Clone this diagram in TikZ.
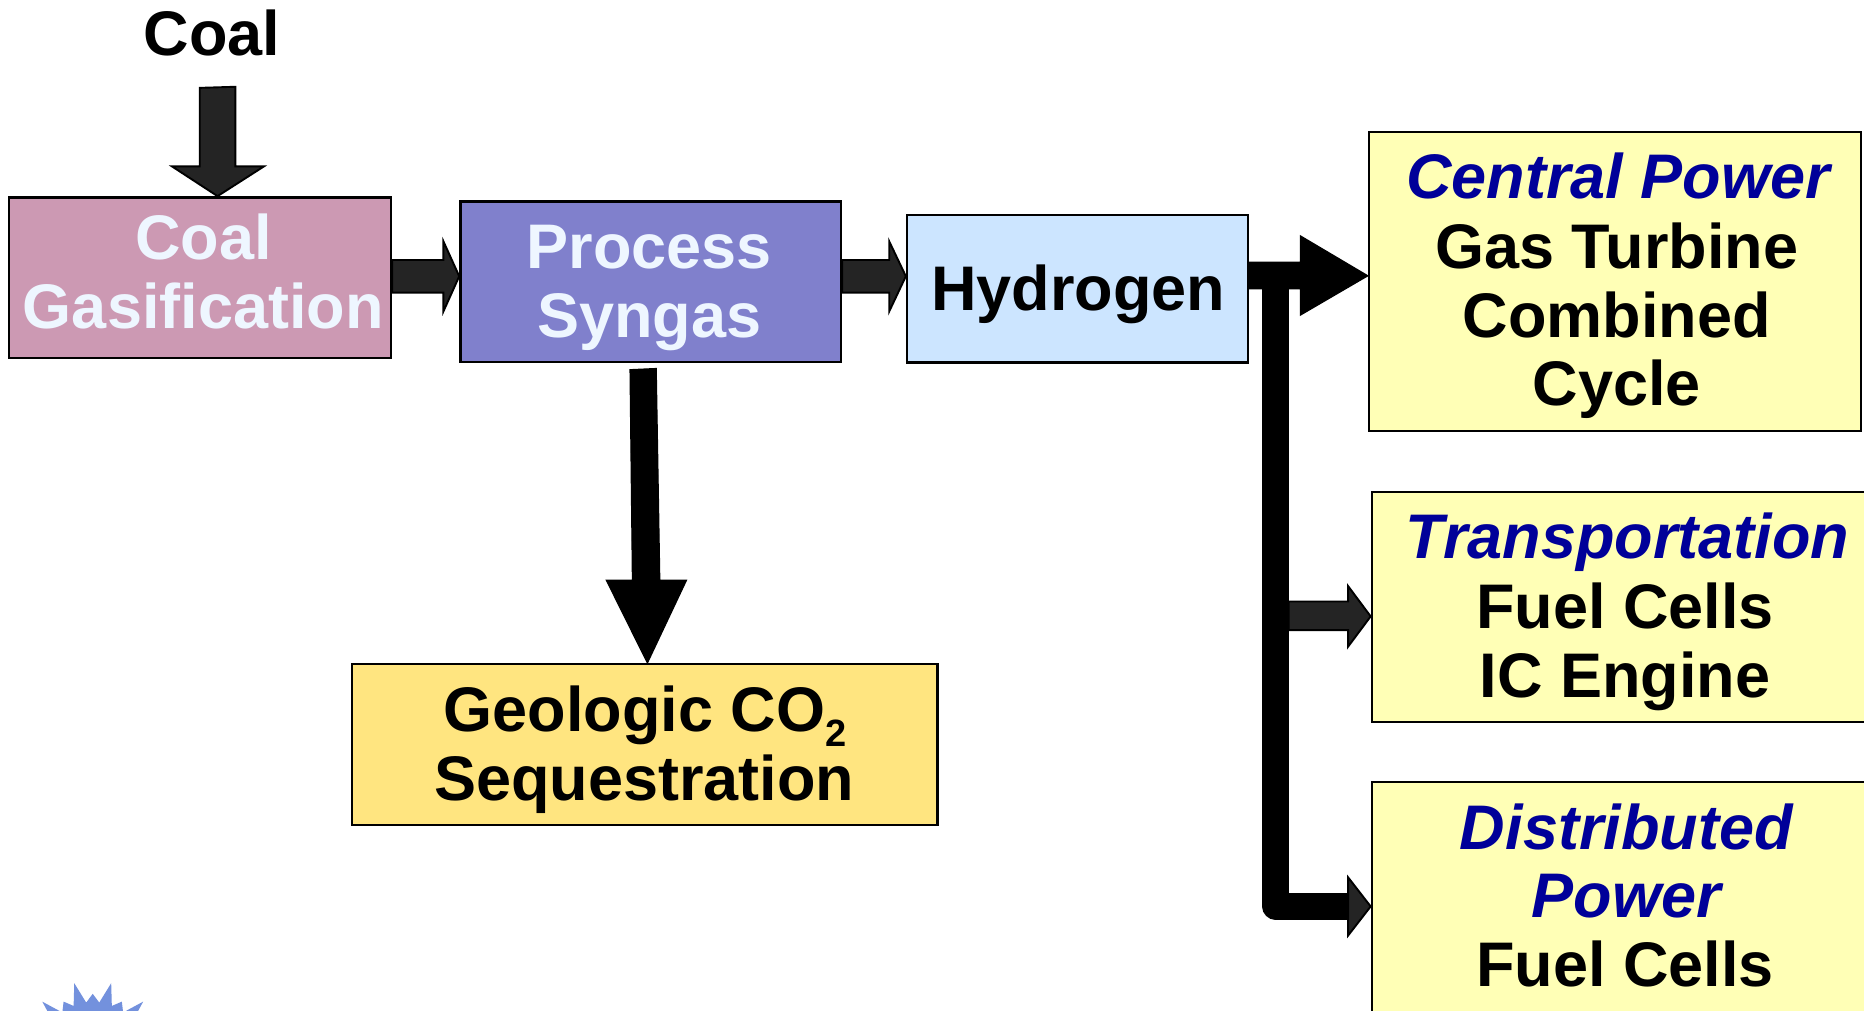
\documentclass[tikz,border=0pt]{standalone}
\usepackage{fontspec}
\setmainfont{Liberation Sans}
\usetikzlibrary{calc,fit}
\definecolor{cgfill}{RGB}{204,153,179}
\definecolor{psfill}{RGB}{128,128,204}
\definecolor{hfill}{RGB}{204,229,255}
\definecolor{yfill}{RGB}{255,255,182}
\definecolor{gfill}{RGB}{255,229,128}
\definecolor{navy}{RGB}{0,0,153}
\definecolor{wtext}{RGB}{238,246,255}
\definecolor{arrowgray}{RGB}{36,36,36}
\definecolor{starblue}{RGB}{115,145,221}
\tikzset{
 box/.style={draw=black, line width=1pt, inner sep=0pt},
 lbl/.style={font=\fontsize{26.5pt}{28.85pt}\selectfont\bfseries, inner sep=0pt, anchor=base},
 wlbl/.style={lbl, text=wtext},
 blbl/.style={lbl, text=navy, font=\fontsize{26.5pt}{28.85pt}\selectfont\bfseries\itshape},
 garrow/.style={fill=arrowgray, draw=black, line width=0.8pt, line join=miter},
 karrow/.style={fill=black, draw=black, line width=0.5pt},
 bar/.style={draw=black, line width=11pt, line join=round},
}
\begin{document}
\begin{tikzpicture}[x=0.5pt,y=-0.5pt]
\fill[white] (0,0) rectangle (1568,850);
\useasboundingbox (0,0) rectangle (1568,850);

% boxes
\node[box, fill=cgfill, fit={(7.6,166) (328.8,301.4)}] (cg) {};
\node[box, fill=psfill, fit={(387.3,169.4) (707.5,304.5)}] (ps) {};
\node[box, fill=hfill, fit={(763,181) (1050,305)}] (h) {};
\node[box, fill=yfill, fit={(1151.6,111) (1565.6,362.3)}] (cp) {};
\node[box, fill=yfill, fit={(1154,414) (1582,607.5)}] (tr) {};
\node[box, fill=yfill, fit={(1154,658) (1582,900)}] (dp) {};
\node[box, fill=gfill, fit={(295.9,558.7) (788.6,694)}] (gc) {};

% texts
\node[lbl] (coal) at (178.5,47) {Coal};
\node[wlbl] (cg1) at (171,218) {Coal};
\node[wlbl] (cg2) at (171,276.2) {Gasification};
\node[wlbl] (ps1) at (546,225.7) {Process};
\node[wlbl] (ps2) at (546,283.8) {Syngas};
\node[lbl] (h1) at (907,261) {Hydrogen};
\node[blbl] (cp1) at (1361,167.4) {Central Power};
\node[lbl] (cp2) at (1360,225.7) {Gas Turbine};
\node[lbl] (cp3) at (1360,283.8) {Combined};
\node[lbl] (cp4) at (1360,340.7) {Cycle};
\node[blbl] (tr1) at (1369,470) {Transportation};
\node[lbl] (tr2) at (1367,528.8) {Fuel Cells};
\node[lbl] (tr3) at (1367,586.5) {IC Engine};
\node[blbl] (dp1) at (1368,714.4) {Distributed};
\node[blbl] (dp2) at (1368,772) {Power};
\node[lbl] (dp3) at (1367,829.6) {Fuel Cells};
\node[lbl] (gc1) at (542.6,615.5) {Geologic CO\raisebox{-6.3pt}{\fontsize{16pt}{16pt}\selectfont 2}};
\node[lbl] (gc2) at (541.8,673) {Sequestration};

% arrows
\filldraw[garrow] (coal.south -| 168,0) ++(0,26) -- (168,140) -- (144.7,140) -- (cg.north -| 183,0) -- (222,140) -- (198,140) -- (198,73) -- cycle;
\filldraw[garrow] (cg.east |- 0,218.7) -- (373,218.7) -- (373,203) -- (ps.west |- 0,232.4) -- (373,262) -- (373,246.2) -- (cg.east |- 0,246.2) -- cycle;
\filldraw[garrow] (ps.east |- 0,218.7) -- (748,218.7) -- (748,203) -- (h.west |- 0,232.4) -- (748,262) -- (748,246.2) -- (ps.east |- 0,246.2) -- cycle;
\filldraw[karrow] (h.east |- 0,220.6) -- (1094,220.6) -- (1094,198.5) -- (cp.west |- 0,232) -- (1094,265) -- (1094,243) -- (h.east |- 0,243) -- cycle;
\coordinate (split) at (1073,220.6);
\draw[bar] (split) -- (1073,762.5) -- (1135,762.5);
\filldraw[garrow] (1084,506) -- (1134,506) -- (1134,493) -- (tr.west |- 0,518.5) -- (1134,544) -- (1134,530) -- (1084,530) -- cycle;
\filldraw[garrow] (1134,738) -- (dp.west |- 0,762.5) -- (1134,787) -- cycle;
\filldraw[karrow] (ps.south -| 530,0) ++(0,5.5) -- (532,488) -- (510,488) -- (gc.north -| 544.6,0) -- (577.5,488) -- (555,488) -- (552,310) -- cycle;

% star
\coordinate (sc) at (78,885);
\fill[starblue] ($(sc)+(-90:49)$) \foreach \a in {0,30,...,330} { -- ($(sc)+({\a-90}:49)$) -- ($(sc)+({\a-82.5}:42)$) -- ($(sc)+({\a-75}:60)$) -- ($(sc)+({\a-67.5}:42)$) } -- cycle;
\end{tikzpicture}
\end{document}
